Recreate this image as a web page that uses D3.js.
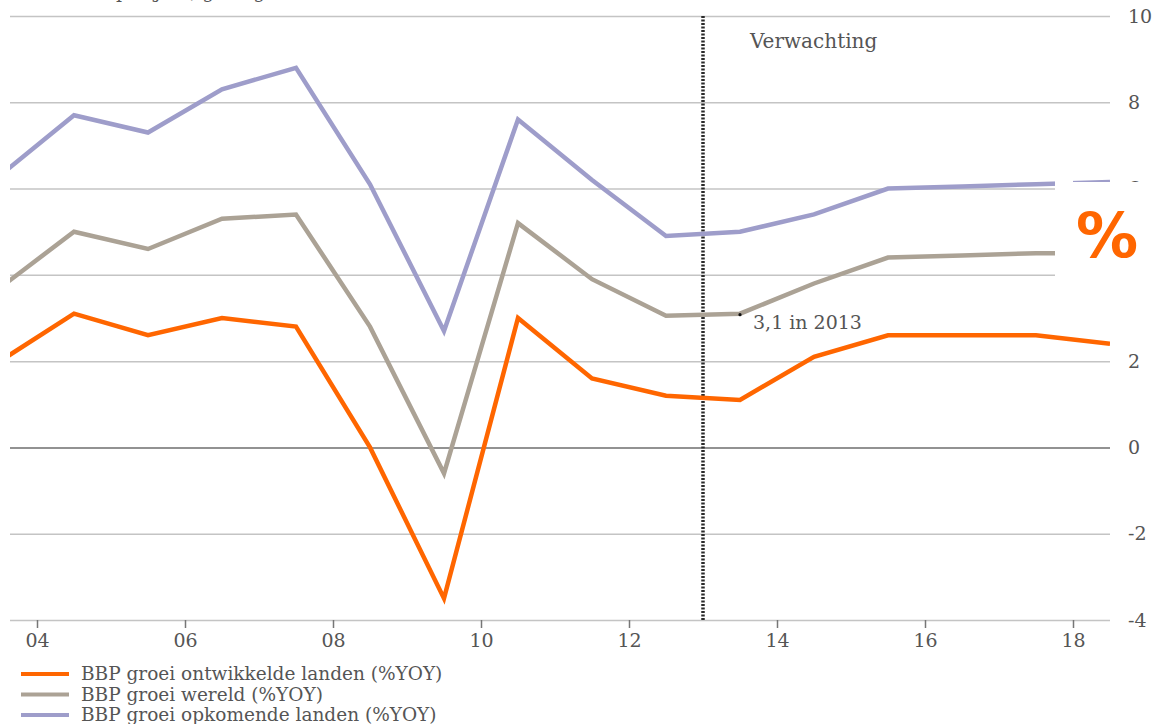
<!DOCTYPE html>
<html>
<head>
<meta charset="utf-8">
<script src="https://cdn.jsdelivr.net/npm/d3@7"></script>
<style>
  html, body { margin: 0; padding: 0; background: #fff; }
  svg { display: block; }
  text { font-family: "DejaVu Serif", serif; fill: #555; }
</style>
</head>
<body>
<svg id="chart" width="1165" height="724"></svg>
<script>
// GDP growth per year (%), plotted at mid-year
const years = [2003, 2004, 2005, 2006, 2007, 2008, 2009, 2010, 2011, 2012, 2013, 2014, 2015, 2016, 2017, 2018];
const ontwikkeld = [2.0, 3.1, 2.6, 3.0, 2.8, 0.0, -3.5, 3.0, 1.6, 1.2, 1.1, 2.1, 2.6, 2.6, 2.6, 2.4];
const wereld     = [3.7, 5.0, 4.6, 5.3, 5.4, 2.8, -0.6, 5.2, 3.9, 3.05, 3.1, 3.8, 4.4, 4.45, 4.5, 4.5];
const opkomend   = [6.3, 7.7, 7.3, 8.3, 8.8, 6.1, 2.7, 7.6, 6.2, 4.9, 5.0, 5.4, 6.0, 6.05, 6.1, 6.15];

const xTicks = [2004, 2006, 2008, 2010, 2012, 2014, 2016, 2018];
const yTicks = [-4, -2, 0, 2, 4, 6, 8, 10];
// the "%" badge sits on top of this value label
const yTickUnderBadge = 4;

const seriesNames = [
  "BBP groei ontwikkelde landen (%YOY)",
  "BBP groei wereld (%YOY)",
  "BBP groei opkomende landen (%YOY)"
];
const seriesColors = ["#ff6600", "#aba295", "#9e9dca"];
const forecastStart = 2013;

const svg = d3.select("#chart");
const left = 10, right = 1110;

const x = d3.scaleLinear().domain([2004, 2018]).range([37, 1073]);
const y = d3.scaleLinear().domain([-4, 10]).range([620, 16]);

// clipped heading above the plot
svg.append("text")
  .attr("x", 57).attr("y", -2)
  .style("font-size", "19px")
  .text("Groei per jaar, gewogen");

// horizontal grid + right-hand value labels
const yAxis = d3.axisRight(y)
  .tickValues(yTicks)
  .tickSize(right - left)
  .tickPadding(18)
  .tickFormat(d => d === yTickUnderBadge ? "" : (d < 0 ? "-" + Math.abs(d) : String(d)));

const gy = svg.append("g")
  .attr("transform", `translate(${left},0)`)
  .call(yAxis);
gy.select(".domain").remove();
gy.selectAll(".tick line")
  .attr("stroke", d => d === 0 ? "#6e6e6e" : "#c4c4c4")
  .attr("stroke-width", 1.5);
gy.selectAll(".tick text")
  .attr("fill", "#555")
  .style("font-family", "DejaVu Serif, serif")
  .style("font-size", "19px");

// year axis
const xAxis = d3.axisBottom(x)
  .tickValues(xTicks)
  .tickSize(8)
  .tickPadding(6)
  .tickFormat(d => String(d % 100).padStart(2, "0"));

const gx = svg.append("g")
  .attr("transform", `translate(0,${y(-4)})`)
  .call(xAxis);
gx.select(".domain").remove();
gx.selectAll(".tick line").attr("stroke", "#777").attr("stroke-width", 1.5);
gx.selectAll(".tick text")
  .attr("fill", "#555")
  .style("font-family", "DejaVu Serif, serif")
  .style("font-size", "19px");

// plot clip
svg.append("clipPath").attr("id", "plotClip")
  .append("rect").attr("x", left).attr("y", 0).attr("width", right - left).attr("height", 640);

// forecast divider
svg.append("line")
  .attr("x1", x(forecastStart)).attr("x2", x(forecastStart))
  .attr("y1", y(10)).attr("y2", y(-4))
  .attr("stroke", "#2a2a2a")
  .attr("stroke-width", 3.5)
  .attr("stroke-dasharray", "2,1.5");

svg.append("text")
  .attr("x", 750).attr("y", 48)
  .style("font-size", "20px")
  .text("Verwachting");

// series lines
const line = d3.line()
  .x((d, i) => x(years[i] + 0.5))
  .y(d => y(d));

const plot = svg.append("g").attr("clip-path", "url(#plotClip)");
[opkomend, wereld, ontwikkeld].forEach((vals, k) => {
  const idx = 2 - k;
  plot.append("path")
    .datum(vals)
    .attr("fill", "none")
    .attr("stroke", seriesColors[idx])
    .attr("stroke-width", 4.5)
    .attr("stroke-linejoin", "miter")
    .attr("d", line);
});

// annotation for world growth in 2013
const i2013 = years.indexOf(2013);
svg.append("circle")
  .attr("cx", x(2013.5)).attr("cy", y(wereld[i2013]) + 1)
  .attr("r", 1.6).attr("fill", "#111");
svg.append("text")
  .attr("x", 753).attr("y", 329)
  .style("font-size", "19px")
  .text(String(wereld[i2013]).replace(".", ",") + " in 2013");

// unit badge on the right
svg.append("rect")
  .attr("x", 1055).attr("y", 182).attr("width", 110).attr("height", 108)
  .attr("fill", "#fff");
svg.append("rect")
  .attr("x", 1055).attr("y", 176).attr("width", 18).attr("height", 8)
  .attr("fill", "#fff");
svg.append("text")
  .attr("x", 1107).attr("y", 257)
  .attr("text-anchor", "middle")
  .style("font-family", "DejaVu Sans, sans-serif")
  .style("font-weight", "bold")
  .style("font-size", "62px")
  .style("fill", "#ff6600")
  .text("%");

// legend
const legend = svg.append("g");
seriesNames.forEach((name, i) => {
  const ly = 674 + i * 20.5;
  legend.append("line")
    .attr("x1", 21).attr("x2", 69)
    .attr("y1", ly).attr("y2", ly)
    .attr("stroke", seriesColors[i])
    .attr("stroke-width", 4);
  legend.append("text")
    .attr("x", 81).attr("y", ly + 6)
    .style("font-size", "18.5px")
    .text(name);
});
</script>
</body>
</html>
